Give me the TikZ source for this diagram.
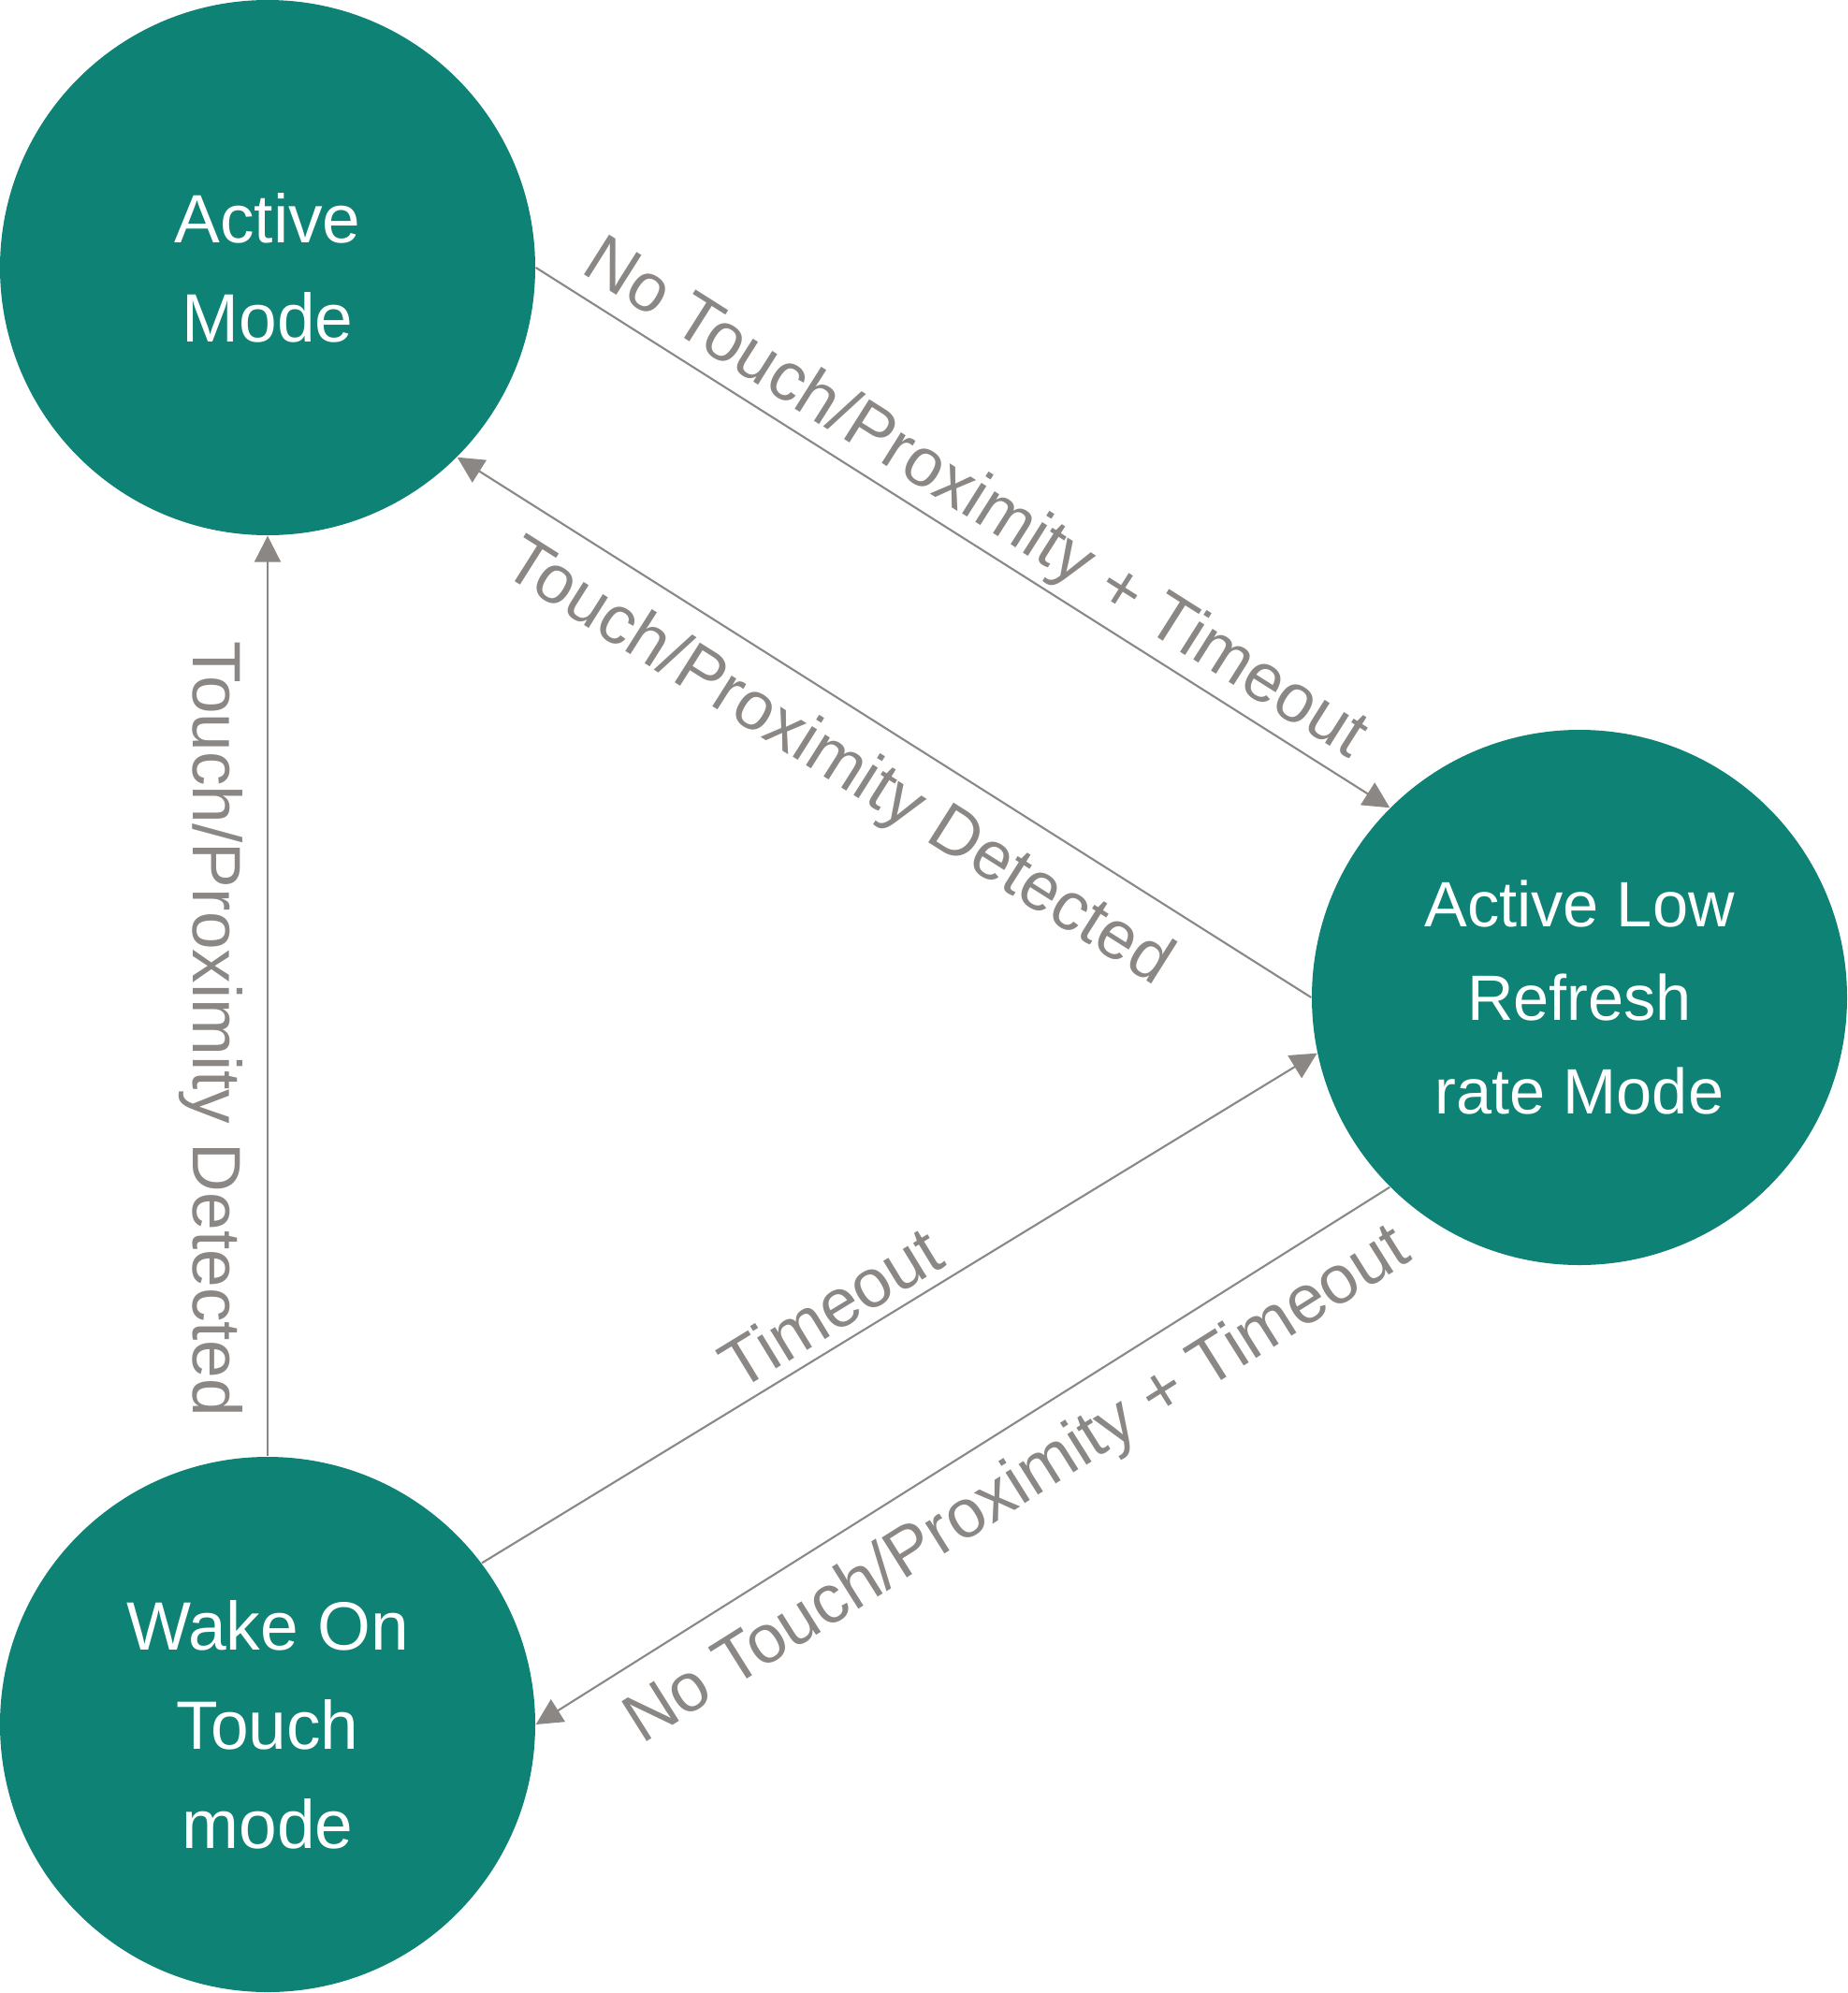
\documentclass[tikz,border=0pt]{standalone}
\usepackage{fontspec}
\setmainfont{Liberation Sans}
\usetikzlibrary{arrows.meta}
\definecolor{modeteal}{RGB}{14,130,117}
\definecolor{linegray}{RGB}{139,135,133}
\tikzset{
  modecircle/.style={circle, fill=modeteal, minimum size=5.72cm, inner sep=0pt, text=white, align=center, font=\fontsize{20.8pt}{30.2pt}\selectfont},
  trans/.style={draw=linegray, line width=0.6pt, -{Triangle[length=0.28cm, width=0.28cm]}},
  lbl/.style={text=linegray, font=\fontsize{20.8pt}{30.2pt}\selectfont, inner sep=0pt, text depth=0pt}
}
\begin{document}
\begin{tikzpicture}
\useasboundingbox (0,0) rectangle (19.75,-21.30);
\node[modecircle] (active) at (2.86,-2.86) {Active\\Mode};
\node[modecircle, font=\fontsize{19.5pt}{28.4pt}\selectfont] (lowrate) at (16.88,-10.66) {Active Low\\Refresh\\rate Mode};
\node[modecircle] (wake) at (2.86,-18.43) {Wake On\\Touch\\mode};
\draw[trans] (active.east) -- node[lbl, sloped, pos=0.49, anchor=south, outer sep=0.21cm] {No Touch/Proximity + Timeout} (lowrate.135);
\draw[trans] (lowrate.west) -- node[lbl, sloped, pos=0.52, anchor=north, outer sep=0.26cm] {Touch/Proximity Detected} (active.-45);
\draw[trans] (wake.north) -- node[lbl, pos=0.464, rotate=-90, anchor=north, outer sep=0.27cm] {Touch/Proximity Detected} (active.south);
\draw[trans] (wake.37) -- node[lbl, sloped, pos=0.44, anchor=south, outer sep=0.13cm] {Timeout} (lowrate.192);
\draw[trans] (lowrate.225) -- node[lbl, sloped, pos=0.47, anchor=north, outer sep=0.26cm] {No Touch/Proximity + Timeout} (wake.east);
\end{tikzpicture}
\end{document}
